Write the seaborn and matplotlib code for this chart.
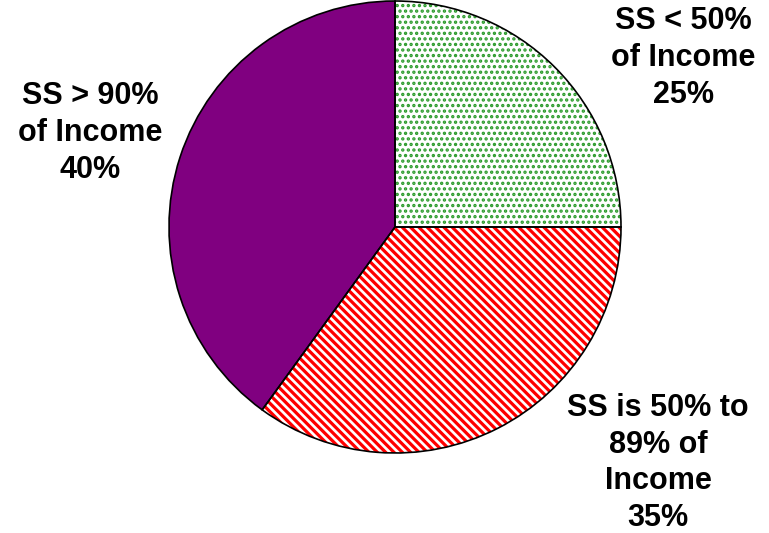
import seaborn as sns
import matplotlib
matplotlib.use('Agg')
import matplotlib.pyplot as plt

# share of retirees by how much of income comes from Social Security
labels = ['SS < 50%\nof Income\n25%', 'SS is 50% to\n89% of\nIncome\n35%', 'SS > 90%\nof Income\n40%']
shares = [25, 35, 40]
fill_colors = ['white', 'white', '#800080']
hatch_colors = ['#2a9a2a', '#ff0000', '#800080']
hatches = ['...', '\\\\\\\\', '']

sns.set_theme(style='white')
plt.rcParams['font.family'] = ['Liberation Sans', 'DejaVu Sans']

fig = plt.figure(figsize=(7.69, 5.33), dpi=100)
cx, cy, r = 395, 227, 226
ax = fig.add_axes([(cx - r) / 769, (533 - cy - r) / 533, 2 * r / 769, 2 * r / 533])

wedges, _ = ax.pie(shares, startangle=90, counterclock=False,
                   colors=fill_colors, wedgeprops=dict(linewidth=0))
for w, h, hc in zip(wedges, hatches, hatch_colors):
    w.set_edgecolor(hc)
    w.set_hatch(h)
    if hasattr(w, 'set_hatch_linewidth'):
        w.set_hatch_linewidth(1.6 if h == '...' else 2.3)
plt.rcParams['hatch.linewidth'] = 2.3

# black outlines on top
ax.pie(shares, startangle=90, counterclock=False,
       wedgeprops=dict(fill=False, edgecolor='black', linewidth=1.2))
ax.set_xlim(-1.0, 1.0)
ax.set_ylim(-1.0, 1.0)
ax.set_aspect('equal')
ax.axis('off')

label_pos = [(683, 58), (658, 463), (90, 133)]
for txt, (x, y) in zip(labels, label_pos):
    fig.text(x / 769, 1 - y / 533, txt, ha='center', va='center',
             fontsize=22, fontweight='bold', linespacing=1.3, color='black')

fig.savefig('out.png', dpi=100)
